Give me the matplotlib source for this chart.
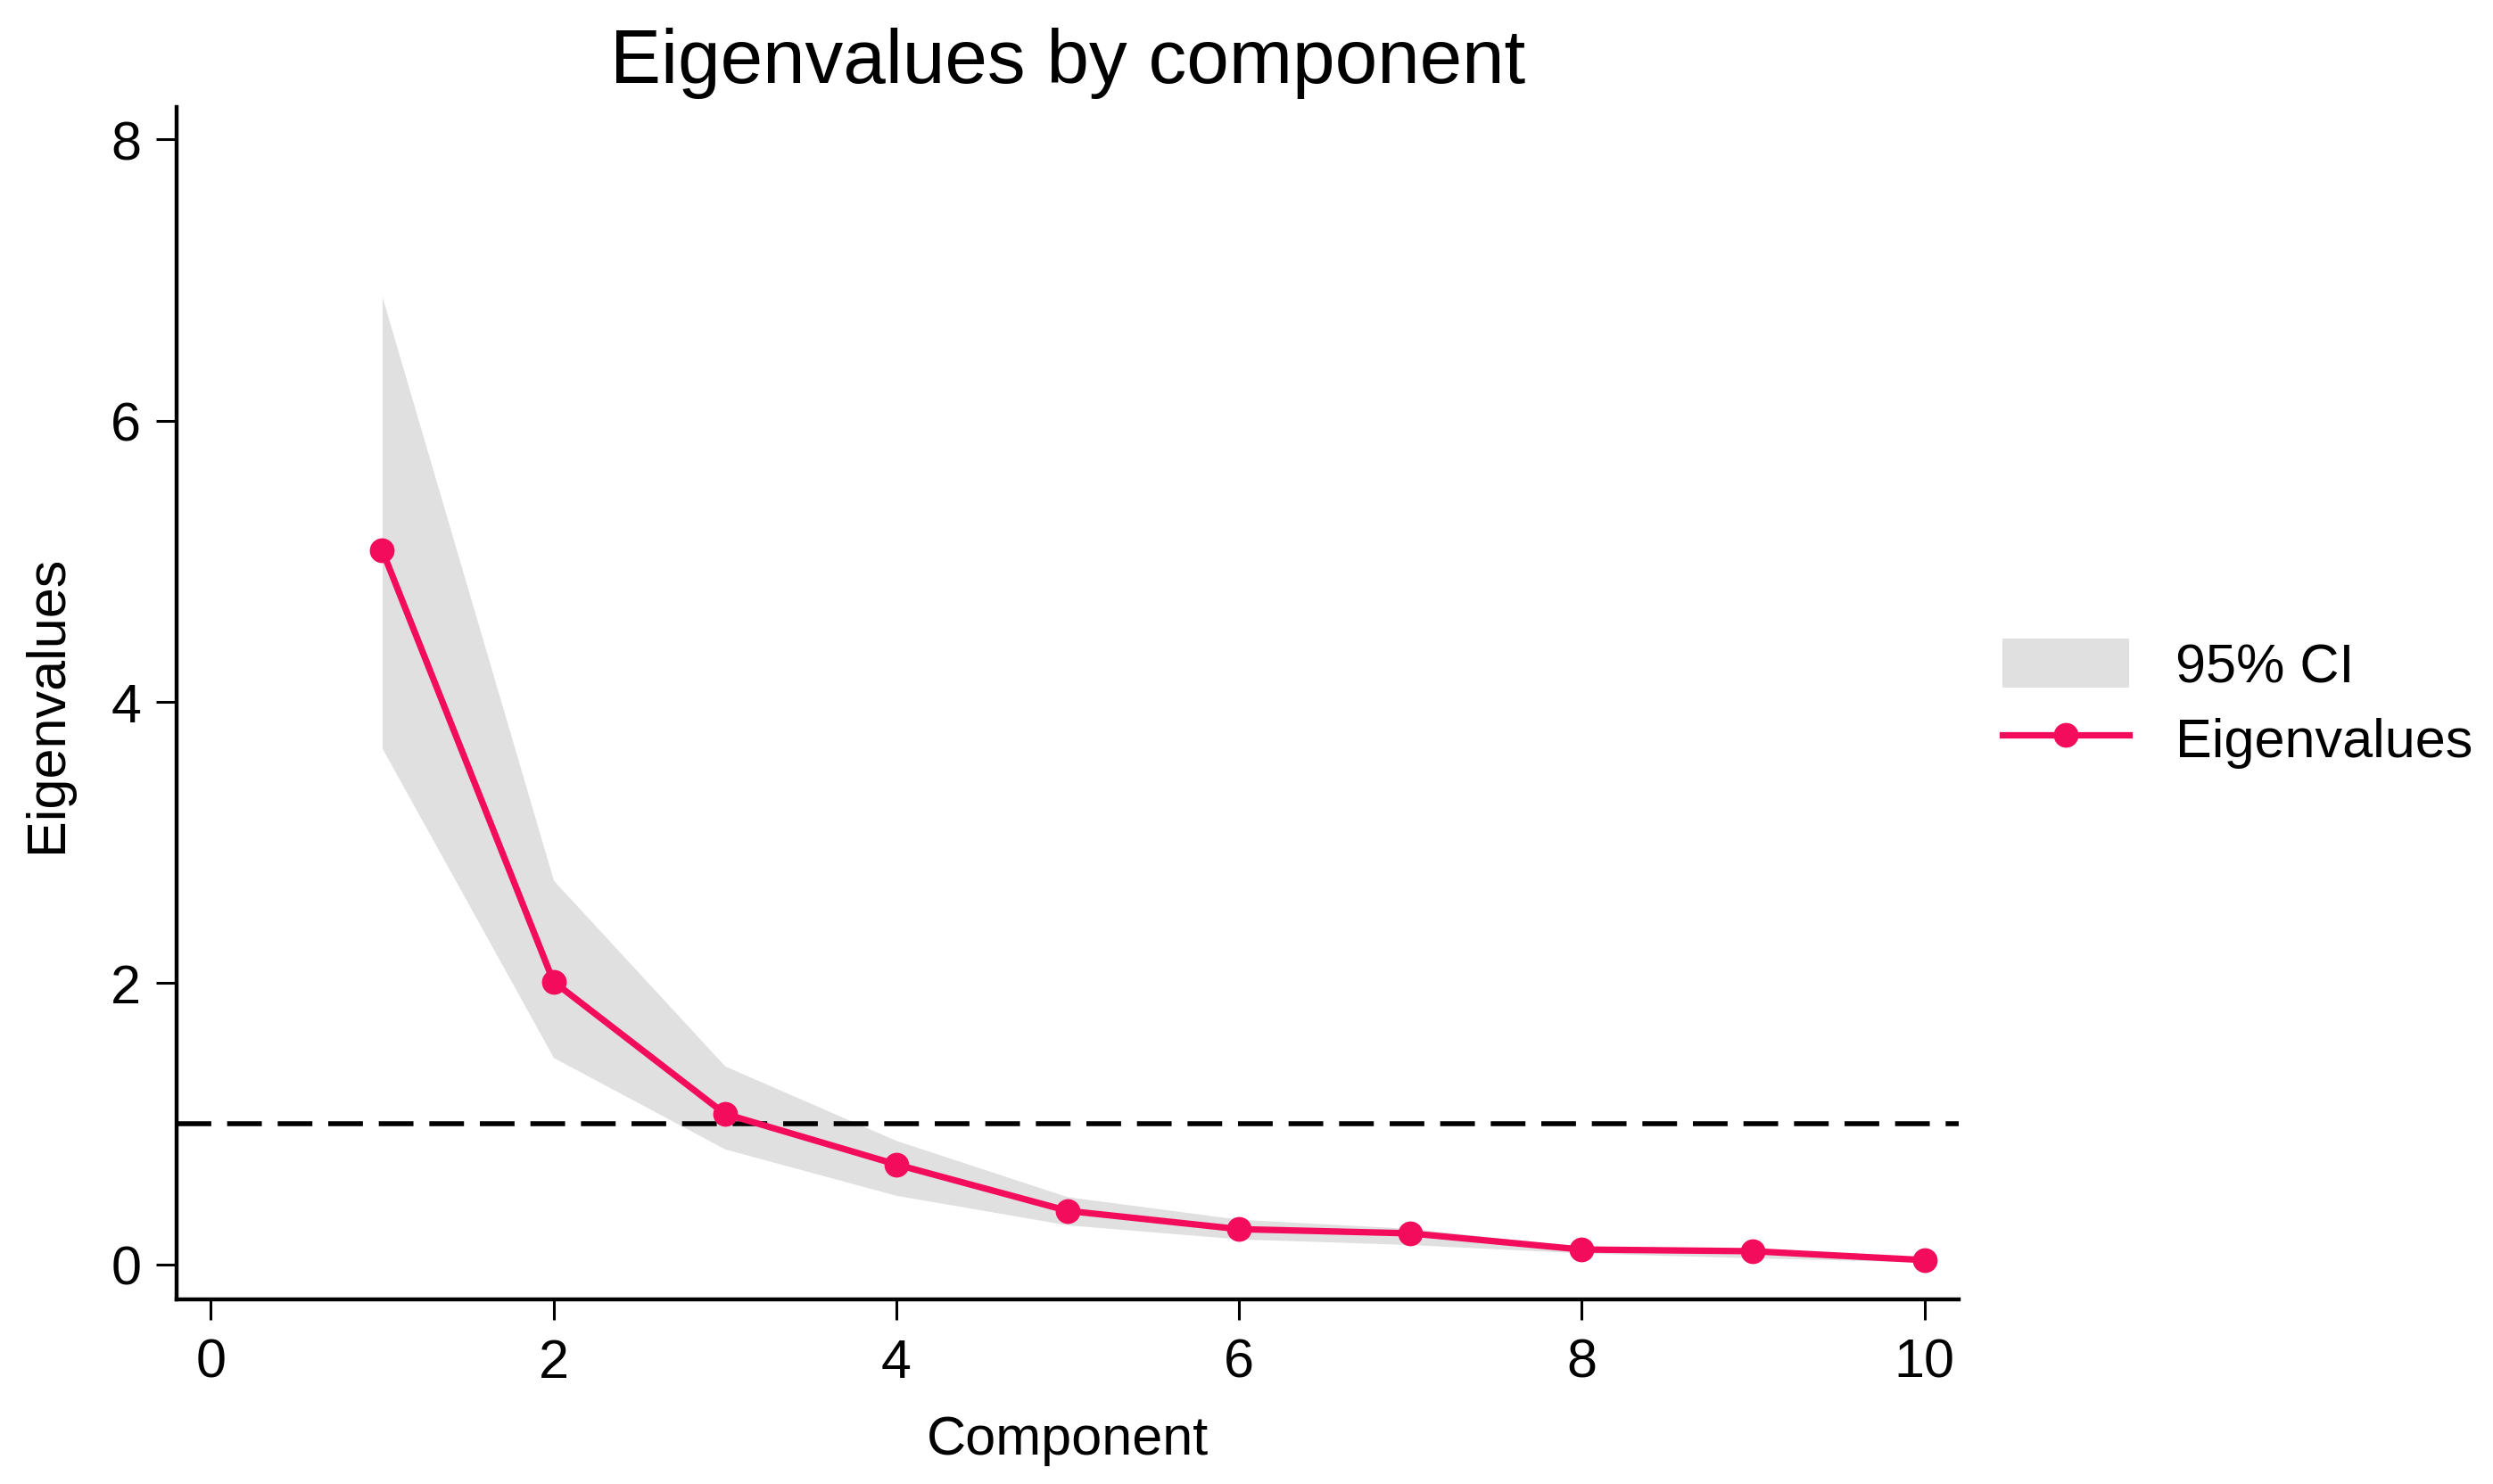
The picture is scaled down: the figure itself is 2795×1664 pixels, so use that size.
"""
Scree plot: eigenvalues by component with a 95% confidence band.
"""

import matplotlib
matplotlib.use("Agg")
import matplotlib.pyplot as plt

# ---- data ----
components = [1, 2, 3, 4, 5, 6, 7, 8, 9, 10]
eigenvalues = [5.08, 2.01, 1.07, 0.71, 0.38, 0.25, 0.22, 0.105, 0.093, 0.03]
ci_upper = [6.88, 2.73, 1.41, 0.88, 0.48, 0.32, 0.255, 0.126, 0.109, 0.04]
ci_lower = [3.67, 1.47, 0.82, 0.49, 0.28, 0.18, 0.14, 0.08, 0.046, 0.015]

x_ticks = [0, 2, 4, 6, 8, 10]
y_ticks = [0, 2, 4, 6, 8]

LINE_COLOR = "#F40C5C"
BAND_COLOR = "#E0E0E0"

plt.rcParams["font.family"] = ["Liberation Sans", "DejaVu Sans"]


def main():
    fig = plt.figure(figsize=(13.975, 8.325), dpi=200)
    ax = fig.add_axes([0.0708, 0.1243, 0.7149, 0.8030])

    ax.fill_between(components, ci_lower, ci_upper, color=BAND_COLOR,
                    linewidth=0, label="95% CI", zorder=1)
    ax.axhline(1, color="black", linewidth=2.0, dashes=(7, 3.2), zorder=2)
    ax.plot(components, eigenvalues, color=LINE_COLOR, linewidth=2.6,
            marker="o", markersize=9, label="Eigenvalues", zorder=3)

    ax.set_xlim(-0.2, 10.2)
    ax.set_ylim(-0.25, 8.23)
    ax.set_xticks(x_ticks)
    ax.set_yticks(y_ticks)

    for side in ("top", "right"):
        ax.spines[side].set_visible(False)
    for side in ("left", "bottom"):
        ax.spines[side].set_linewidth(1.6)

    ax.tick_params(axis="both", direction="out", length=8.3, width=1.1,
                   labelsize=22)
    ax.tick_params(axis="x", pad=7)
    ax.tick_params(axis="y", pad=6)

    ax.set_xlabel("Component", fontsize=22, labelpad=10.5)
    ax.set_ylabel("Eigenvalues", fontsize=22, labelpad=15)
    ax.set_title("Eigenvalues by component", fontsize=30.8, pad=10)

    ax.legend(loc="center left", bbox_to_anchor=(1.0245, 0.5),
              frameon=False, fontsize=22, borderaxespad=0, borderpad=0,
              handlelength=2.33, handleheight=1.0, handletextpad=0.85,
              labelspacing=0.36, numpoints=1)

    fig.savefig("out.png", dpi=200, facecolor="white")


if __name__ == "__main__":
    main()
